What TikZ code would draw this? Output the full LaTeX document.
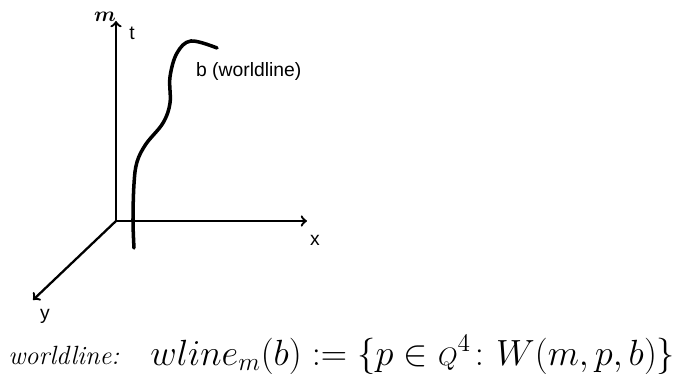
\documentclass[tikz,border=0pt]{standalone}
\usepackage{amsmath,amssymb}
\usepackage{fontspec}
\newfontfamily\labelfont{Liberation Sans}
\usepackage{tikz}
\usetikzlibrary{positioning}

\begin{document}
\begin{tikzpicture}[x=0.02cm, y=0.02cm,
    axis/.style={line width=1.3pt, ->},
    axislabel/.style={font=\labelfont\fontsize{11}{13}\selectfont, inner sep=1pt}]
    \useasboundingbox (0,0) rectangle (683,374);

    % Axes
    \coordinate (O) at (116,153);
    \coordinate (T) at (116,353);
    \coordinate (X) at (307,153);
    \coordinate (Y) at (33,74);
    \draw[axis] (O) -- (T);
    \draw[axis] (O) -- (X);
    \draw[axis] (O) -- (Y);

    \node[font=\fontsize{13}{15}\selectfont, inner sep=0pt] (mlabel) at (105,357) {$\boldsymbol{m}$};
    \node[axislabel] (tlabel) at (132,341) {t};
    \node[axislabel] (xlabel) at (315,134) {x};
    \node[axislabel] (ylabel) at (45,58) {y};

    % Worldline of b
    \draw[line width=2pt, line cap=round] plot[smooth, tension=0.6] coordinates {
        (134,126) (133,154) (134,190) (137,212) (146,230) (163,251) (170,271)
        (170,297) (177,321) (191,333) (217,326)
    };
    \node[axislabel, anchor=west] (blabel) at (194,302) {b (worldline)};

    % Definition
    \node[font=\fontsize{15}{18}\selectfont, anchor=west, inner sep=0pt] (defname) at (8,19) {\textit{worldline:}};
    \node[font=\fontsize{20.8}{24}\selectfont, anchor=west, inner sep=0pt] (defformula) at (150,19)
        {$wline_m(b) \mathrel{:=} \{p \in {\scriptstyle Q}^4 \colon W(m,p,b)\}$};
\end{tikzpicture}
\end{document}
